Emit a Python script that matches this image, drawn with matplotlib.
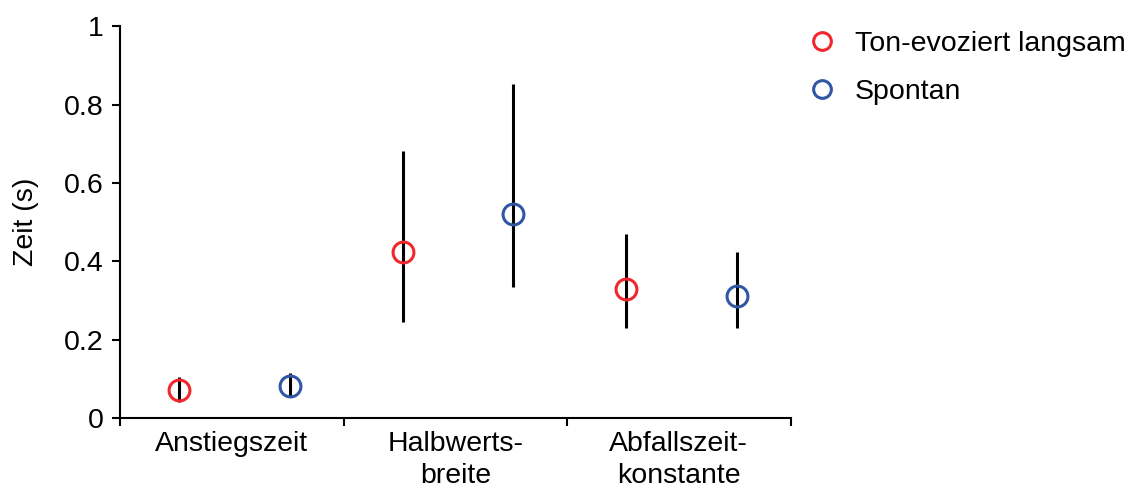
import numpy as np
import matplotlib
matplotlib.use("Agg")
import matplotlib.pyplot as plt

plt.rcParams['font.family'] = ['Liberation Sans', 'DejaVu Sans']

# data
categories = ["Anstiegszeit", "Halbwerts-\nbreite", "Abfallszeit-\nkonstante"]
series_names = ["Ton-evoziert langsam", "Spontan"]

slow_mean = [0.071, 0.423, 0.329]
slow_low = [0.041, 0.245, 0.230]
slow_high = [0.105, 0.681, 0.469]

spont_mean = [0.082, 0.520, 0.311]
spont_low = [0.056, 0.334, 0.230]
spont_high = [0.115, 0.852, 0.423]

red = '#f0282d'
blue = '#3056a5'
fs = 20.5

fig = plt.figure(figsize=(11.44, 4.92), dpi=100)
ax = fig.add_axes([0.105, 0.150, 0.586, 0.797])

x = np.arange(len(categories))

def draw(offset, mean, low, high, color, label):
    mean = np.array(mean)
    yerr = [mean - np.array(low), np.array(high) - mean]
    xs = x + offset
    ax.errorbar(xs, mean, yerr=yerr, fmt='none', ecolor='black', elinewidth=2.2, capsize=0, zorder=2)
    ax.plot(xs, mean, 'o', ms=15, mfc='none', mec=color, mew=2.2, zorder=3, label=label)

draw(-0.235, slow_mean, slow_low, slow_high, red, series_names[0])
draw(0.26, spont_mean, spont_low, spont_high, blue, series_names[1])

ax.set_xlim(-0.5, 2.5)
ax.set_ylim(0, 1)
ax.set_yticks([0, 0.2, 0.4, 0.6, 0.8, 1.0])
ax.set_yticklabels(["0", "0.2", "0.4", "0.6", "0.8", "1"])
ax.set_xticks([-0.5, 0.5, 1.5, 2.5])
ax.set_xticklabels([])
ax.set_xticks(x, minor=True)
ax.set_xticklabels(categories, minor=True)
ax.tick_params(axis='x', which='minor', length=0, pad=9, labelsize=fs)
ax.tick_params(axis='x', which='major', length=6, width=1.5, direction='out')
ax.tick_params(axis='y', length=6, width=1.5, direction='out', labelsize=fs, pad=6)
for lbl in ax.get_xticklabels(minor=True):
    lbl.set_linespacing(1.3)

ax.spines['top'].set_visible(False)
ax.spines['right'].set_visible(False)
ax.spines['left'].set_linewidth(1.5)
ax.spines['bottom'].set_linewidth(1.5)
ax.set_ylabel("Zeit (s)", fontsize=fs, labelpad=18)

ax.legend(loc='upper left', bbox_to_anchor=(0.689, 0.99), bbox_transform=fig.transFigure,
          frameon=False, fontsize=fs, handletextpad=0.85, labelspacing=0.8,
          handlelength=0.6, markerscale=0.85)

fig.savefig("out.png", dpi=100)
